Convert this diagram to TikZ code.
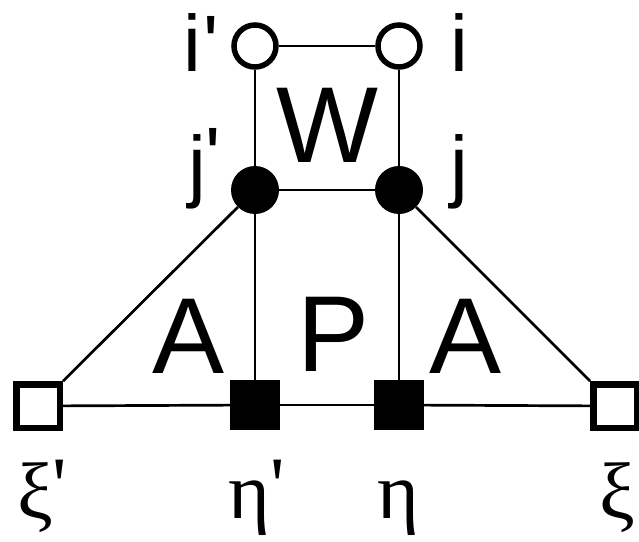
\documentclass[tikz,border=0pt]{standalone}
\usepackage{fontspec}
\newfontfamily\lbl{Liberation Sans}
\newfontfamily\grk{Liberation Serif}
\begin{document}
\begin{tikzpicture}[x=1bp,y=-1bp,
  edge/.style={line width=2.7bp},
  opencirc/.style={circle, draw, line width=5.5bp, fill=white, minimum size=42bp, inner sep=0},
  fullcirc/.style={circle, fill=black, minimum size=48bp, inner sep=0},
  opensq/.style={rectangle, draw, line width=6.5bp, fill=white, minimum size=43.5bp, inner sep=0},
  fullsq/.style={rectangle, fill=black, minimum size=50bp, inner sep=0},
  lab/.style={font=\lbl\fontsize{80bp}{80bp}\selectfont, inner sep=0, anchor=base west},
  big/.style={font=\lbl\fontsize{108bp}{108bp}\selectfont, inner sep=0, anchor=base},
  glab/.style={font=\grk\fontsize{80bp}{80bp}\selectfont, inner sep=0}]
\fill[white] (0,0) rectangle (639,542);
\useasboundingbox (0,0) rectangle (639,542);
% vertices
\node[opencirc] (ip) at (255,46) {};
\node[opencirc] (i) at (399,46) {};
\node[fullcirc] (jp) at (255,190) {};
\node[fullcirc] (j) at (399,190) {};
\node[opensq] (xp) at (38,406) {};
\node[fullsq] (etap) at (255,405) {};
\node[fullsq] (eta) at (399,405) {};
\node[opensq] (xi) at (615,406) {};
% connectors
\draw[edge] (ip) -- (i);
\draw[edge] (ip) -- (jp);
\draw[edge] (i) -- (j);
\draw[edge] (jp) -- (j);
\draw[edge] (jp) -- (etap);
\draw[edge] (j) -- (eta);
\draw[edge] (jp) -- (xp);
\draw[edge] (j) -- (xi);
\draw[edge] (xp) -- (etap);
\draw[edge] (etap) -- (eta);
\draw[edge] (eta) -- (xi);
% labels
\node[lab] (lip) at (183,72) {i\kern3bp'};
\node[lab] (li) at (450,72) {i};
\node[lab] (ljp) at (188,193) {j\raisebox{9bp}{'}};
\node[lab] (lj) at (450,193) {j};
\node[big] (lW) at (327,163) {W};
\node[big] (lA1) at (189,373) {A};
\node[big] (lP) at (334,371) {P};
\node[big] (lA2) at (466,373) {A};
\node[glab, anchor=base west] (lxp) at (17,518) {ξ\raisebox{6bp}{'}};
\node[glab, anchor=base west] (letap) at (228,518) {η\raisebox{6bp}{'}};
\node[glab, anchor=base] (leta) at (398,518) {η};
\node[glab, anchor=base] (lxi) at (617,518) {ξ};
\end{tikzpicture}
\end{document}
